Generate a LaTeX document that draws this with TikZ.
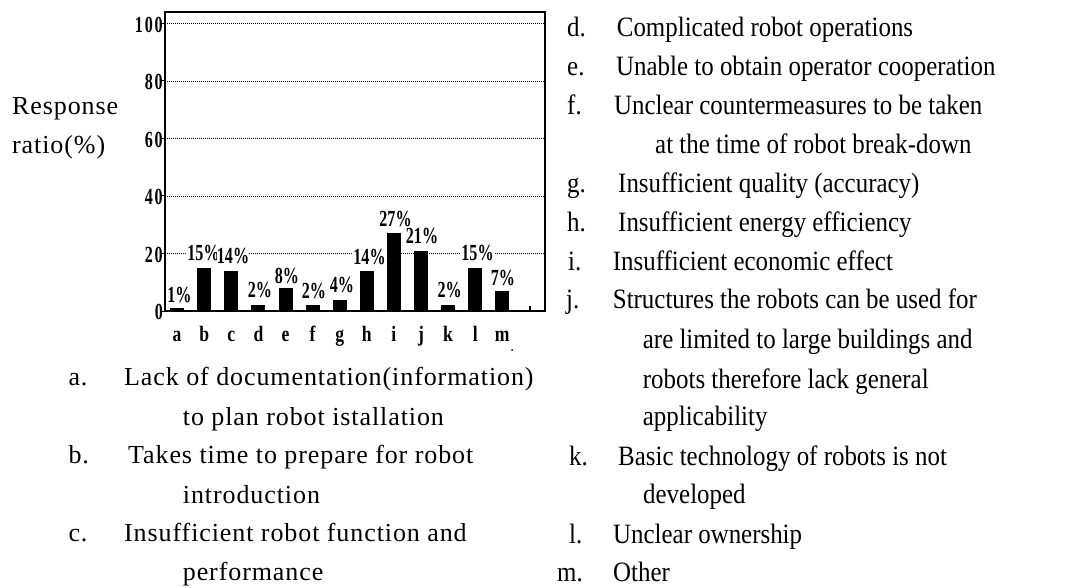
\documentclass[tikz,border=0pt]{standalone}
\usepackage{fontspec}
\setmainfont{Liberation Serif}
\newfontfamily\listfont[FakeStretch=0.89]{Liberation Serif}
\newfontfamily\leftfont[LetterSpace=3.5]{Liberation Serif}
\newfontfamily\chartfont[FakeStretch=0.7]{Liberation Serif}
\newfontfamily\catfont[FakeStretch=0.8]{Liberation Serif}
\newfontfamily\tickfont[FakeStretch=0.7,LetterSpace=8]{Liberation Serif}
\begin{document}
\begin{tikzpicture}[x=1pt,y=-1pt,
  grid/.style={line width=0.8pt,dash pattern=on 0.9pt off 1.1pt},
  frame/.style={line width=1.3pt},
  bar/.style={fill=black},
  pct/.style={font=\chartfont\bfseries\fontsize{23}{24}\selectfont,inner sep=0pt,fill=white},
  tick/.style={font=\tickfont\bfseries\fontsize{23}{24}\selectfont,inner sep=0pt,anchor=east},
  cat/.style={font=\catfont\bfseries\fontsize{22}{24}\selectfont,inner sep=0pt,anchor=base},
  rtext/.style={font=\listfont\fontsize{28}{32}\selectfont,inner sep=0pt,anchor=base west},
  ltext/.style={font=\leftfont\fontsize{26}{30}\selectfont,inner sep=0pt,anchor=base west}]
\useasboundingbox (0,0) rectangle (1079,588);

% dotted grid lines at 20 .. 100 %
\foreach \g in {1,...,5}
  \draw[grid] (165,311-57.5*\g) -- (545,311-57.5*\g);

% chart frame
\draw[frame] (165,12) rectangle (545,311);

% y tick labels and ticks
\foreach \g/\t in {0/0,1/20,2/40,3/60,4/80,5/100}{
  \draw[line width=1pt] (161,311-57.5*\g) -- (165,311-57.5*\g);
  \node[tick] (y\t) at (163,312-57.5*\g) {\t};
}

% bars
\foreach \v [count=\i from 0] in {1,15,14,2,8,2,4,14,27,21,2,15,7}
  \fill[bar] (177.1+27.1*\i-7,311) rectangle ++(14,-2.875*\v);

% small tick at the right end of the base line
\draw[line width=1.2pt] (530,306) -- (530,311);

% category letters
\foreach \c [count=\i from 0] in {a,b,c,d,e,f,g,h,i,j,k,l,m}
  \node[cat] (x\c) at (177.1+27.1*\i,341) {\c};
\fill (512,350) circle (1pt);

% value labels
\node[pct] (pa) at (179.5,295) {1\%};
\node[pct] (pb) at (203.5,253) {15\%};
\node[pct] (pc) at (233,256) {14\%};
\node[pct] (pd) at (260,290) {2\%};
\node[pct] (pe) at (287,275.7) {8\%};
\node[pct] (pf) at (314,291) {2\%};
\node[pct] (pg) at (342,285) {4\%};
\node[pct] (ph) at (369.5,256.7) {14\%};
\node[pct] (pi) at (395.5,219) {27\%};
\node[pct] (pj) at (422,236) {21\%};
\node[pct] (pk) at (449.7,290) {2\%};
\node[pct] (pl) at (477.5,253) {15\%};
\node[pct] (pm) at (503,278) {7\%};

% axis title
\node[ltext] (ytitle1) at (12,115) {Response};
\node[ltext] (ytitle2) at (12,154) {ratio(\%)};

% legend, left column
\node[ltext] (la) at (68.3,385.7) {a.};
\node[ltext] (ta) at (124,385.7) {Lack of documentation(information)};
\node[ltext] (ta2) at (182.7,425) {to plan robot istallation};
\node[ltext] (lb) at (68.3,463.3) {b.};
\node[ltext] (tb) at (128,463.3) {Takes time to prepare for robot};
\node[ltext] (tb2) at (182.7,503.3) {introduction};
\node[ltext] (lc) at (68.3,541.7) {c.};
\node[ltext] (tc) at (124,541.7) {Insufficient robot function and};
\node[ltext] (tc2) at (182.7,580.7) {performance};

% legend, right column
\node[rtext] (ld) at (567,36.7) {d.};
\node[rtext] (td) at (616.7,36.7) {Complicated robot operations};
\node[rtext] (le) at (567,76) {e.};
\node[rtext] (te) at (616,76) {Unable to obtain operator cooperation};
\node[rtext] (lf) at (567,115) {f.};
\node[rtext] (tf) at (614,115) {Unclear countermeasures to be taken};
\node[rtext] (tf2) at (655,154) {at the time of robot break-down};
\node[rtext] (lg) at (567,192.7) {g.};
\node[rtext] (tg) at (618,192.7) {Insufficient quality (accuracy)};
\node[rtext] (lh) at (567,231.7) {h.};
\node[rtext] (th) at (618,231.7) {Insufficient energy efficiency};
\node[rtext] (li) at (568,270) {i.};
\node[rtext] (ti) at (612.7,270) {Insufficient economic effect};
\node[rtext] (lj) at (566,308.3) {j.};
\node[rtext] (tj) at (612.7,308.3) {Structures the robots can be used for};
\node[rtext] (tj2) at (642.7,348.3) {are limited to large buildings and};
\node[rtext] (tj3) at (642.7,388.3) {robots therefore lack general};
\node[rtext] (tj4) at (642.7,425) {applicability};
\node[rtext] (lk) at (569,465) {k.};
\node[rtext] (tk) at (618,465) {Basic technology of robots is not};
\node[rtext] (tk2) at (643,503.3) {developed};
\node[rtext] (ll) at (569,543.3) {l.};
\node[rtext] (tl) at (613,543.3) {Unclear ownership};
\node[rtext] (lm) at (557,581.7) {m.};
\node[rtext] (tm) at (613,581.7) {Other};
\end{tikzpicture}
\end{document}
